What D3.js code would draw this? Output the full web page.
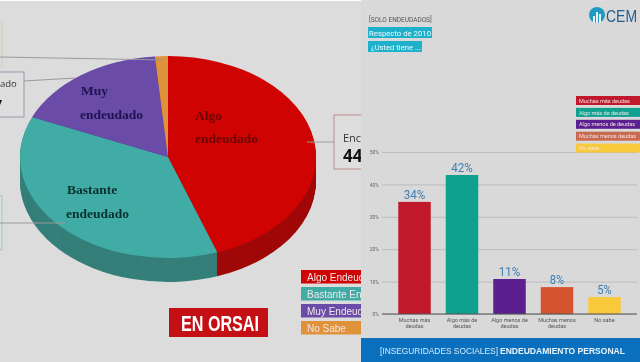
<!DOCTYPE html>
<html>
<head>
<meta charset="utf-8">
<script src="https://cdn.jsdelivr.net/npm/d3@7"></script>
<style>
    html, body { margin: 0; padding: 0; background: #dcdcdc; overflow: hidden; }
    svg { display: block; filter: blur(0.5px); }
</style>
</head>
<body>
<script>
// left picture: pie
const pieValues = [44.6, 36.9, 17.1, 1.4];
const pieColors = ["#d00303", "#40aca5", "#6a4ba8", "#e0923a"];
const pieSideColors = ["#a00808", "#357f7a", "#4d3680", "#a86c2a"];
// the legend is cut off by the right picture
const pieLegendNames = ["Algo Endeud", "Bastante En", "Muy Endeud", "No Sabe"];

// right picture: bars
const barNames = [["Muchas más", "deudas"], ["Algo más de", "deudas"], ["Algo menos de", "deudas"], ["Muchas menos", "deudas"], ["No sabe"]];
const barValues = [34.6, 42.9, 10.8, 8.3, 5.2];
const barLabels = ["34%", "42%", "11%", "8%", "5%"];
const barColors = ["#c2182b", "#0fa08f", "#5b1f8f", "#d5532f", "#f8c93b"];
const yTicks = [0, 10, 20, 30, 40, 50];
const legendNames = ["Muchas más deudas", "Algo más de deudas", "Algo menos de deudas", "Muchas menos deudas", "No sabe"];
const legendColors = ["#c2182b", "#0fa08f", "#5b1f8f", "#c9694e", "#f8c93b"];

const svg = d3.select("body").append("svg")
    .attr("width", 640)
    .attr("height", 362);

svg.append("rect").attr("width", 640).attr("height", 362).attr("fill", "#dcdcdc");
svg.append("rect").attr("width", 361).attr("height", 1).attr("fill", "#fff");

// callout boxes, the picture cuts them off
const boxes = [
    {x: -40, y: 22, w: 42, h: 45, c: "#d8c7b0"},
    {x: -60, y: 72, w: 84, h: 45, c: "#9c94ad"},
    {x: -40, y: 196, w: 42, h: 54, c: "#a5c5c8"},
    {x: 334, y: 115, w: 60, h: 54, c: "#c08a8a"}
];
svg.selectAll(".box")
    .data(boxes)
    .enter().append("rect")
    .attr("class", "box")
    .attr("x", d => d.x)
    .attr("y", d => d.y)
    .attr("width", d => d.w)
    .attr("height", d => d.h)
    .attr("fill", "#dedede")
    .attr("stroke", d => d.c)
    .attr("stroke-width", 1);

// pie
const pieCx = 168, pieCy = 157, pieRx = 148, pieRy = 101, pieDepth = 24;
const pie = d3.pie().sort(null)(pieValues);
const arc = d3.arc().innerRadius(0).outerRadius(pieRx);

d3.range(pieDepth, 0, -1).forEach(function(dy) {
    svg.append("g")
        .attr("transform", `translate(${pieCx},${pieCy + dy}) scale(1,${pieRy / pieRx})`)
        .selectAll("path")
        .data(pie)
        .enter().append("path")
        .attr("d", arc)
        .attr("fill", (d, i) => pieSideColors[i]);
});

svg.append("g")
    .attr("transform", `translate(${pieCx},${pieCy}) scale(1,${pieRy / pieRx})`)
    .selectAll("path")
    .data(pie)
    .enter().append("path")
    .attr("d", arc)
    .attr("fill", (d, i) => pieColors[i]);

// leader lines
const leaders = [[0, 57, 164, 60], [24, 81, 75, 78], [0, 223, 65, 223], [307, 142, 334, 142]];
svg.selectAll(".leader")
    .data(leaders)
    .enter().append("line")
    .attr("class", "leader")
    .attr("x1", d => d[0])
    .attr("y1", d => d[1])
    .attr("x2", d => d[2])
    .attr("y2", d => d[3])
    .attr("stroke", "#9a9a9a")
    .attr("stroke-width", 1);

// labels on the pie
const pieText = [
    {t: "Muy", x: 81, y: 95, c: "#1f1250"},
    {t: "endeudado", x: 80, y: 119, c: "#1f1250"},
    {t: "Algo", x: 195, y: 120, c: "#6a0505"},
    {t: "endeudado", x: 195, y: 143, c: "#6a0505"},
    {t: "Bastante", x: 67, y: 194, c: "#08302e"},
    {t: "endeudado", x: 66, y: 218, c: "#08302e"}
];
svg.selectAll(".pie-text")
    .data(pieText)
    .enter().append("text")
    .attr("class", "pie-text")
    .attr("x", d => d.x)
    .attr("y", d => d.y)
    .attr("fill", d => d.c)
    .style("font", "bold 13.5px 'Liberation Serif'")
    .text(d => d.t);

// text in the boxes
svg.append("text").attr("x", 0).attr("y", 87)
    .style("font", "9.5px 'Open Sans'").attr("fill", "#333").text("ado");
svg.append("text").attr("x", 2).attr("y", 108).attr("text-anchor", "end")
    .style("font", "bold 11px 'Open Sans'").attr("fill", "#111").text("7");
svg.append("text").attr("x", 343).attr("y", 142)
    .style("font", "11px 'Open Sans'").attr("fill", "#333").text("Enc");
svg.append("text").attr("x", 343).attr("y", 162)
    .style("font", "bold 17px 'Open Sans'").attr("fill", "#111").text("44");

// left legend
const pieLegend = svg.selectAll(".pie-legend")
    .data(pieLegendNames)
    .enter().append("g")
    .attr("class", "pie-legend")
    .attr("transform", (d, i) => `translate(301,${270 + i * 17})`);
pieLegend.append("rect")
    .attr("width", 60)
    .attr("height", 13.5)
    .attr("fill", (d, i) => pieColors[i]);
pieLegend.append("text")
    .attr("x", 6)
    .attr("y", 10.5)
    .attr("fill", "#f2e6e6")
    .style("font", "10px 'Liberation Sans'")
    .text(d => d);

// en orsai
svg.append("rect").attr("x", 169).attr("y", 308).attr("width", 99).attr("height", 29).attr("fill", "#c40f14");
svg.append("text").attr("x", 181).attr("y", 331)
    .attr("fill", "#fff")
    .attr("textLength", 78)
    .attr("lengthAdjust", "spacingAndGlyphs")
    .style("font", "bold 22px 'Liberation Sans'")
    .text("EN ORSAI");

// right picture
svg.append("rect").attr("x", 361).attr("y", 1).attr("width", 279).attr("height", 361).attr("fill", "#d9d9d9");

const xScale = d3.scaleBand()
    .domain(barNames.map((d, i) => i))
    .range([390.75, 628.25])
    .paddingInner(0.316)
    .paddingOuter(0.158);

const yScale = d3.scaleLinear()
    .domain([0, 50])
    .range([314, 152]);

const yAxis = svg.append("g")
    .attr("transform", "translate(382,0)")
    .call(d3.axisLeft(yScale).tickValues(yTicks).tickFormat(d => d + "%").tickSize(-255).tickPadding(3));
yAxis.select(".domain").remove();
yAxis.selectAll("line").attr("stroke", "#bcbcbc");
yAxis.selectAll("text")
    .attr("fill", "#666")
    .style("font", "5px 'Roboto'");

svg.selectAll(".bar")
    .data(barValues)
    .enter().append("rect")
    .attr("class", "bar")
    .attr("x", (d, i) => xScale(i))
    .attr("y", d => yScale(d))
    .attr("width", xScale.bandwidth())
    .attr("height", d => yScale(0) - yScale(d))
    .attr("fill", (d, i) => barColors[i]);

svg.append("line")
    .attr("x1", 382).attr("x2", 637)
    .attr("y1", yScale(0)).attr("y2", yScale(0))
    .attr("stroke", "#555").attr("stroke-width", 1.2);

svg.selectAll(".bar-label")
    .data(barLabels)
    .enter().append("text")
    .attr("class", "bar-label")
    .attr("x", (d, i) => xScale(i) + xScale.bandwidth() / 2 - d.length * 3.6)
    .attr("y", (d, i) => yScale(barValues[i]) - 3)
    .attr("fill", "#3f7fb3")
    .attr("textLength", d => d.length * 7.2)
    .attr("lengthAdjust", "spacingAndGlyphs")
    .style("font", "13px 'Roboto'")
    .text(d => d);

svg.selectAll(".bar-name")
    .data(barNames)
    .enter().append("text")
    .attr("class", "bar-name")
    .attr("x", (d, i) => xScale(i) + xScale.bandwidth() / 2)
    .attr("y", 322)
    .attr("text-anchor", "middle")
    .attr("fill", "#555")
    .style("font", "5.5px 'Roboto'")
    .selectAll("tspan")
    .data(d => d)
    .enter().append("tspan")
    .attr("x", function() { return this.parentNode.getAttribute("x"); })
    .attr("dy", (d, i) => i ? 6 : 0)
    .text(d => d);

// right legend
const barLegend = svg.selectAll(".bar-legend")
    .data(legendNames)
    .enter().append("g")
    .attr("class", "bar-legend")
    .attr("transform", (d, i) => `translate(576,${96 + i * 11.9})`);
barLegend.append("rect")
    .attr("width", 64)
    .attr("height", 9)
    .attr("fill", (d, i) => legendColors[i]);
barLegend.append("text")
    .attr("x", 3)
    .attr("y", 6.7)
    .attr("fill", "#f3e4e4")
    .style("font", "5.5px 'Roboto'")
    .text(d => d);

// top left tags
svg.append("text").attr("x", 369).attr("y", 22)
    .attr("fill", "#555")
    .style("font", "6.5px 'Roboto'")
    .text("[SOLO ENDEUDADOS]");
svg.append("rect").attr("x", 368).attr("y", 27).attr("width", 64).attr("height", 11).attr("fill", "#1fb1cc");
svg.append("text").attr("x", 369).attr("y", 35.5)
    .attr("fill", "#eefafc")
    .attr("textLength", 62)
    .attr("lengthAdjust", "spacingAndGlyphs")
    .style("font", "8px 'Roboto'")
    .text("Respecto de 2010");
svg.append("rect").attr("x", 368).attr("y", 41).attr("width", 54).attr("height", 11).attr("fill", "#1fb1cc");
svg.append("text").attr("x", 371).attr("y", 49.5)
    .attr("fill", "#eefafc")
    .attr("textLength", 50)
    .attr("lengthAdjust", "spacingAndGlyphs")
    .style("font", "8px 'Roboto'")
    .text("¿Usted tiene ...");

// logo
const logo = svg.append("g").attr("transform", "translate(597,15)");
logo.append("circle").attr("r", 8).attr("fill", "#1e9cc0");
[[-4, 1, 7], [-1, -3, 11], [2, -1, 9]].forEach(function(b) {
    logo.append("rect").attr("x", b[0]).attr("y", b[1]).attr("width", 2).attr("height", b[2]).attr("fill", "#e6f4f8");
});
svg.append("text").attr("x", 606).attr("y", 22)
    .attr("fill", "#1f5d8f")
    .attr("textLength", 31)
    .attr("lengthAdjust", "spacingAndGlyphs")
    .style("font", "16.5px 'Liberation Sans'")
    .text("CEM");

// footer
svg.append("rect").attr("x", 361).attr("y", 338).attr("width", 279).attr("height", 24).attr("fill", "#0a6fbd");
svg.append("text").attr("x", 380).attr("y", 354)
    .attr("fill", "#d8ecf8")
    .attr("textLength", 118)
    .attr("lengthAdjust", "spacingAndGlyphs")
    .style("font", "9px 'Liberation Sans'")
    .text("[INSEGURIDADES SOCIALES]");
svg.append("text").attr("x", 500).attr("y", 354)
    .attr("fill", "#e8f4fb")
    .attr("textLength", 125)
    .attr("lengthAdjust", "spacingAndGlyphs")
    .style("font", "bold 9px 'Liberation Sans'")
    .text("ENDEUDAMIENTO PERSONAL");
</script>
</body>
</html>
